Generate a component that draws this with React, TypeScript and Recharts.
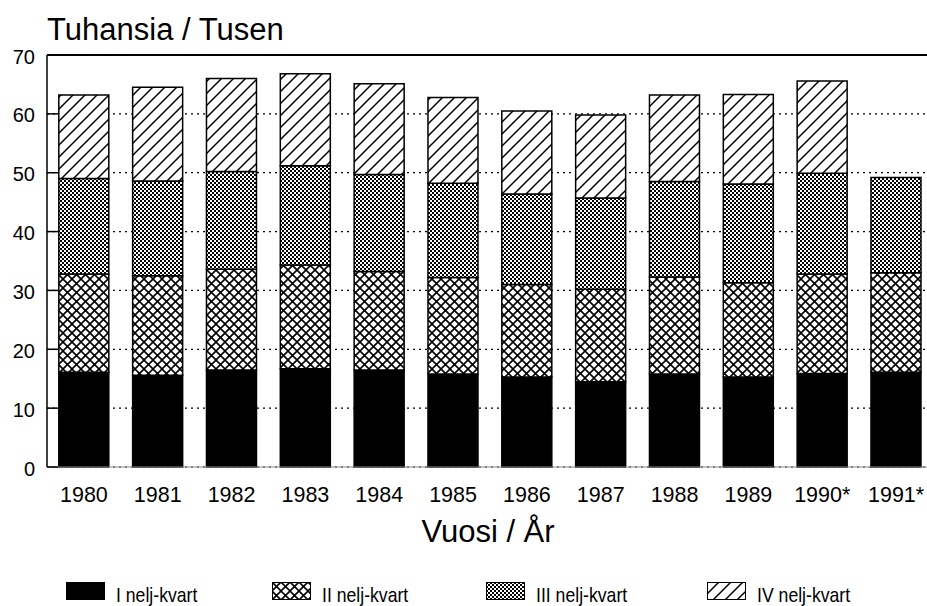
import React from "react";
import {
  BarChart,
  Bar,
  XAxis,
  YAxis,
  CartesianGrid,
  ReferenceLine,
} from "recharts";

const years = ["1980", "1981", "1982", "1983", "1984", "1985", "1986", "1987", "1988", "1989", "1990*", "1991*"];
const q1 = [16.1, 15.6, 16.5, 16.7, 16.5, 15.8, 15.3, 14.5, 15.8, 15.3, 15.9, 16.1];
const q2 = [16.7, 16.9, 17.1, 17.6, 16.7, 16.4, 15.7, 15.7, 16.5, 16.0, 16.9, 16.9];
const q3 = [16.2, 16.1, 16.6, 16.9, 16.5, 16.0, 15.4, 15.5, 16.2, 16.8, 17.1, 16.2];
const q4 = [14.2, 15.9, 15.8, 15.6, 15.4, 14.6, 14.1, 14.1, 14.7, 15.2, 15.7, null];
const yTicks = [0, 10, 20, 30, 40, 50, 60, 70];

const series = [
  { key: "q1", name: "I nelj-kvart", fill: "#000" },
  { key: "q2", name: "II nelj-kvart", fill: "url(#cross)" },
  { key: "q3", name: "III nelj-kvart", fill: "url(#dots)" },
  { key: "q4", name: "IV nelj-kvart", fill: "url(#hatch)" },
];

const data = years.map((y, i) => ({ year: y, q1: q1[i], q2: q2[i], q3: q3[i], q4: q4[i] }));

const font = "'Liberation Sans', Arial, sans-serif";

function YTick(props: any) {
  const { x, y, payload } = props;
  return (
    <g>
      <line x1={x} x2={x + 11} y1={y} y2={y} stroke="#000" strokeWidth={1.5} />
      <text x={x - 12} y={y} dy={8.5} textAnchor="end" fontSize={20} fontFamily={font} fill="#000">
        {payload.value}
      </text>
    </g>
  );
}

function XTick(props: any) {
  const { x, y, payload } = props;
  return (
    <text x={x} y={y} dy={35} textAnchor="middle" fontSize={21.5} fontFamily={font} fill="#000">
      {payload.value}
    </text>
  );
}

function LegendBox() {
  const pos = [66, 272, 486, 707];
  return (
    <div style={{ position: "absolute", left: 0, top: 582, width: 927, height: 24 }}>
      {series.map((s, i) => (
        <div key={s.key} style={{ position: "absolute", left: pos[i], top: 0, display: "flex", alignItems: "flex-start" }}>
          <svg width={39} height={18} style={{ display: "block" }}>
            <rect x={0.5} y={0.5} width={38} height={17} fill={s.fill} stroke="#000" strokeWidth={1} />
          </svg>
          <span
            style={{
              display: "inline-block",
              marginLeft: 11,
              marginTop: 2,
              fontSize: 21,
              lineHeight: "22px",
              fontFamily: font,
              whiteSpace: "nowrap",
              transform: "scaleX(0.84)",
              transformOrigin: "left center",
            }}
          >
            {s.name}
          </span>
        </div>
      ))}
    </div>
  );
}

export default function App() {
  return (
    <div style={{ position: "absolute", left: 0, top: 0, width: 927, height: 606, background: "#fff", overflow: "hidden" }}>
      <div style={{ position: "absolute", left: 47, top: 12, fontSize: 31, fontFamily: font, whiteSpace: "nowrap" }}>
        Tuhansia / Tusen
      </div>
      <div style={{ position: "absolute", left: 47, width: 882, top: 514, textAlign: "center", fontSize: 31, fontFamily: font }}>
        Vuosi / År
      </div>
      <BarChart
        width={927}
        height={606}
        data={data}
        margin={{ top: 55, right: -6, bottom: 99, left: 0 }}
        barCategoryGap="16%"
      >
        <defs>
          <pattern id="cross" patternUnits="userSpaceOnUse" width={9} height={9}>
            <rect width={9} height={9} fill="#fff" />
            <path d="M0,0 L9,9 M9,0 L0,9" stroke="#000" strokeWidth={1.6} />
          </pattern>
          <pattern id="dots" patternUnits="userSpaceOnUse" width={4} height={4}>
            <rect width={4} height={4} fill="#fff" />
            <rect x={0} y={0} width={2} height={2} fill="#000" />
            <rect x={2} y={2} width={2} height={2} fill="#000" />
          </pattern>
          <pattern id="hatch" patternUnits="userSpaceOnUse" width={12} height={12}>
            <rect width={12} height={12} fill="#fff" />
            <path d="M0,12 L12,0 M-3,3 L3,-3 M9,15 L15,9" stroke="#000" strokeWidth={1.5} />
          </pattern>
        </defs>
        <CartesianGrid vertical={false} stroke="#000" strokeDasharray="2 4" strokeWidth={1.2} />
        <XAxis
          dataKey="year"
          tick={<XTick />}
          tickLine={false}
          tickSize={0}
          tickMargin={0}
          axisLine={{ stroke: "#888", strokeWidth: 1 }}
          height={40}
          interval={0}
        />
        <YAxis
          domain={[0, 70]}
          ticks={yTicks}
          tick={<YTick />}
          tickLine={false}
          tickSize={0}
          tickMargin={0}
          axisLine={{ stroke: "#000", strokeWidth: 1.5 }}
          width={47}
        />
        <ReferenceLine y={70} stroke="#000" strokeWidth={2} />
        {series.map((s) => (
          <Bar
            key={s.key}
            dataKey={s.key}
            name={s.name}
            stackId="a"
            fill={s.fill}
            stroke="#000"
            strokeWidth={1.5}
            isAnimationActive={false}
          />
        ))}
      </BarChart>
      <LegendBox />
    </div>
  );
}
